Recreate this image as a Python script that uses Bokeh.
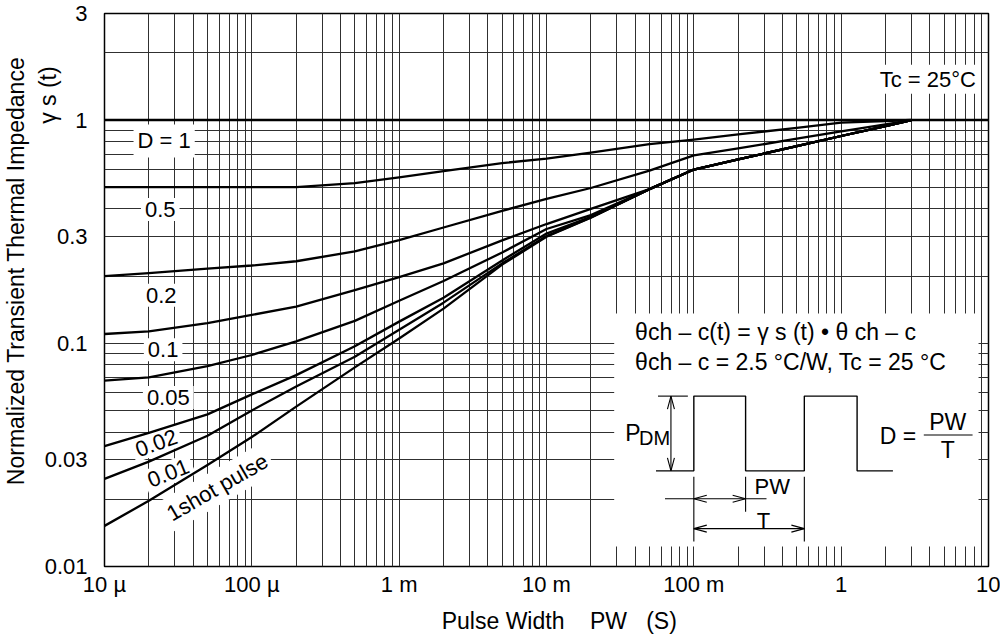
import math
from bokeh.plotting import figure
from bokeh.models import FixedTicker, Label, BoxAnnotation, CustomJSTickFormatter
from bokeh.embed import file_html
from bokeh.resources import INLINE

# ---------------- data ----------------
pulse_width = [1e-5, 2e-5, 5e-5, 1e-4, 2e-4, 5e-4, 1e-3, 2e-3, 5e-3, 1e-2,
               2e-2, 5e-2, 0.1, 0.2, 0.5, 1.0, 2.0, 3.0]
d1_x = [1e-5, 10.0]
d1_y = [1.0, 1.0]
rs_d05 = [0.5, 0.5, 0.5, 0.5, 0.5, 0.522, 0.553, 0.59, 0.641, 0.672,
          0.715, 0.779, 0.816, 0.862, 0.923, 0.973, 0.99, 1.0]
rs_d02 = [0.2, 0.206, 0.216, 0.223, 0.233, 0.258, 0.29, 0.33, 0.392, 0.443,
          0.496, 0.593, 0.695, 0.746, 0.825, 0.89, 0.957, 1.0]
rs_d01 = [0.110, 0.113, 0.123, 0.134, 0.146, 0.173, 0.198, 0.228, 0.289, 0.342,
          0.40, 0.49, 0.60, 0.666, 0.764, 0.848, 0.94, 1.0]
rs_d005 = [0.068, 0.0704, 0.079, 0.0886, 0.102, 0.126, 0.155, 0.19, 0.255, 0.325,
           0.375, 0.49, 0.60, 0.666, 0.764, 0.848, 0.94, 1.0]
rs_d002 = [0.0346, 0.0397, 0.048, 0.059, 0.072, 0.097, 0.125, 0.16, 0.235, 0.31,
           0.368, 0.49, 0.60, 0.666, 0.764, 0.848, 0.94, 1.0]
rs_d001 = [0.0247, 0.0295, 0.0385, 0.050, 0.064, 0.087, 0.115, 0.152, 0.228, 0.302,
           0.366, 0.49, 0.60, 0.666, 0.764, 0.848, 0.94, 1.0]
rs_single = [0.0152, 0.0197, 0.0285, 0.038, 0.052, 0.078, 0.105, 0.143, 0.225, 0.300,
             0.365, 0.49, 0.60, 0.666, 0.764, 0.848, 0.94, 1.0]

curve_labels = ["D = 1", "0.5", "0.2", "0.1", "0.05", "0.02", "0.01", "1shot pulse"]
curve_label_x = [2.54e-5, 2.39e-5, 2.43e-5, 2.5e-5, 2.71e-5, 2.25e-5, 2.71e-5, 5.83e-5]
curve_label_y = [0.806, 0.397, 0.164, 0.0935, 0.0572, 0.0357, 0.0262, 0.02265]
curve_label_angle = [0, 0, 0, 0, 0, 20, 22, 30]

x_ticks = [1e-5, 1e-4, 1e-3, 1e-2, 1e-1, 1.0, 10.0]
x_tick_labels = ["10 µ", "100 µ", "1 m", "10 m", "100 m", "1", "10"]
x_minor = [2e-5, 3e-5, 4e-5, 5e-5, 6e-5, 7e-5, 8e-5, 9e-5,
           2e-4, 3e-4, 4e-4, 5e-4, 6e-4, 7e-4, 8e-4, 9e-4,
           2e-3, 3e-3, 4e-3, 5e-3, 6e-3, 7e-3, 8e-3, 9e-3,
           2e-2, 3e-2, 4e-2, 5e-2, 6e-2, 7e-2, 8e-2, 9e-2,
           0.2, 0.3, 0.4, 0.5, 0.6, 0.7, 0.8, 0.9,
           2.0, 3.0, 4.0, 5.0, 6.0, 7.0, 8.0, 9.0]
y_ticks = [0.01, 0.03, 0.1, 0.3, 1.0, 3.0]
y_tick_labels = ["0.01", "0.03", "0.1", "0.3", "1", "3"]
y_minor = [0.02, 0.04, 0.05, 0.06, 0.07, 0.08, 0.09,
           0.2, 0.4, 0.5, 0.6, 0.7, 0.8, 0.9, 2.0]

NB = "\u00a0"
y_title = NB * 6 + "Normalized Transient Thermal Impedance" + "\n" + NB * 62 + "γ s  (t)"
x_title = NB * 4 + "Pulse Width" + NB * 4 + "PW" + NB * 3 + "(S)"

# ---------------- layout helpers ----------------
FRAME_L, FRAME_R, FRAME_T, FRAME_B = 100, 988, 13, 568   # picture pixels
X_LO, X_HI, Y_LO, Y_HI = 1e-5, 10.0, 0.01, 3.0
LX0, LX1 = math.log10(X_LO), math.log10(X_HI)
LY0, LY1 = math.log10(Y_LO), math.log10(Y_HI)


def px2x(xp):
    return 10 ** (LX0 + (xp - FRAME_L) / (FRAME_R - FRAME_L) * (LX1 - LX0))


def px2y(yp):
    return 10 ** (LY1 - (yp - FRAME_T) / (FRAME_B - FRAME_T) * (LY1 - LY0))


FONT = "Liberation Sans"
W, H = 1000, 636

p = figure(width=W, height=H, x_axis_type="log", y_axis_type="log",
           x_range=(X_LO, X_HI), y_range=(Y_LO, Y_HI),
           output_backend="svg", toolbar_location=None,
           min_border_left=FRAME_L, min_border_right=W - FRAME_R,
           min_border_top=FRAME_T, min_border_bottom=H - FRAME_B)
p.background_fill_color = "white"
p.border_fill_color = "white"
p.outline_line_color = "black"
p.outline_line_width = 1.5

xt = FixedTicker(ticks=x_ticks, minor_ticks=x_minor)
yt = FixedTicker(ticks=y_ticks, minor_ticks=y_minor)
p.xaxis.ticker = xt
p.yaxis.ticker = yt
p.xgrid.ticker = xt
p.ygrid.ticker = yt

fmt_code = """
for (let i = 0; i < vals.length; i++) {
  if (Math.abs(Math.log10(tick) - Math.log10(vals[i])) < 1e-6) { return labs[i]; }
}
return "";
"""
p.xaxis.formatter = CustomJSTickFormatter(args=dict(vals=x_ticks, labs=x_tick_labels), code=fmt_code)
p.yaxis.formatter = CustomJSTickFormatter(args=dict(vals=y_ticks, labs=y_tick_labels), code=fmt_code)

for ax in (p.xaxis, p.yaxis):
    ax.axis_line_color = None
    ax.major_tick_line_color = None
    ax.minor_tick_line_color = None
    ax.major_tick_out = 0
    ax.major_tick_in = 0
    ax.minor_tick_out = 0
    ax.minor_tick_in = 0
    ax.major_label_text_font = FONT
    ax.major_label_text_font_size = "22px"
    ax.major_label_text_color = "black"
    ax.axis_label_text_font = FONT
    ax.axis_label_text_font_style = "normal"
    ax.axis_label_text_color = "black"
p.xaxis.major_label_standoff = 5
p.yaxis.major_label_standoff = 17

p.xaxis.axis_label = x_title
p.xaxis.axis_label_text_font_size = "23px"
p.xaxis.axis_label_standoff = 8
p.yaxis.axis_label = y_title
p.yaxis.axis_label_text_font_size = "23px"
p.yaxis.axis_label_standoff = -19

GRID = "#303030"
for g in (p.xgrid, p.ygrid):
    g.grid_line_color = GRID
    g.grid_line_width = 1
    g.minor_grid_line_color = GRID
    g.minor_grid_line_width = 1

# white box behind the inset (covers the grid)
p.add_layout(BoxAnnotation(left=px2x(612), right=px2x(978), top=px2y(314), bottom=px2y(548),
                           fill_color="white", fill_alpha=1.0, line_color=None, level="underlay"))

# curve labels with white backgrounds (above grid, below curves)
for txt, lx, ly, ang in zip(curve_labels, curve_label_x, curve_label_y, curve_label_angle):
    p.add_layout(Label(x=lx, y=ly, text=txt, text_align="center", text_baseline="middle",
                       angle=math.radians(ang), text_font=FONT, text_font_size="22px",
                       text_color="black", background_fill_color="white",
                       background_fill_alpha=1.0, padding=4, level="underlay"))

p.add_layout(Label(x=3.87, y=1.523, text="Tc = 25°C", text_align="center", text_baseline="middle",
                   text_font=FONT, text_font_size="22px", text_color="black",
                   background_fill_color="white", background_fill_alpha=1.0, padding=2,
                   level="underlay"))

# curves
CW = 2.3
p.line(d1_x, d1_y, line_color="black", line_width=2.4)
for ys in (rs_d05, rs_d02, rs_d01, rs_d005, rs_d002, rs_d001, rs_single):
    p.line(pulse_width, ys, line_color="black", line_width=CW, line_join="round")

# ---------------- inset schematic (picture px) ----------------
pulse_px_x = [654, 692, 692, 744, 744, 803, 803, 856, 856, 892]
pulse_px_y = [472, 472, 397, 397, 472, 472, 397, 397, 472, 472]
p.line([px2x(v) for v in pulse_px_x], [px2y(v) for v in pulse_px_y],
       line_color="black", line_width=1.4)

segs = [
    ((656, 397), (686, 397)),   # top reference of P_DM
    ((669, 397), (669, 472)),   # P_DM dimension line
    ((692, 478), (692, 543)),
    ((744, 478), (744, 513)),
    ((803, 478), (803, 543)),
    ((663, 500), (765, 500)),   # PW dimension
    ((692, 530), (803, 530)),   # T dimension
    ((923, 436), (972, 436)),   # fraction bar
]


def head(tx, ty, ux, uy, L=13.0, Wd=3.5):
    bx, by = tx - ux * L, ty - uy * L
    nx, ny = -uy, ux
    return [(bx + nx * Wd, by + ny * Wd), (tx, ty), (bx - nx * Wd, by - ny * Wd)]


heads = [head(669, 397, 0, -1), head(669, 472, 0, 1),
         head(692, 500, -1, 0), head(744, 500, 1, 0),
         head(692, 530, -1, 0), head(803, 530, 1, 0)]

xs = [[px2x(a[0]), px2x(b[0])] for a, b in segs] + [[px2x(q[0]) for q in h] for h in heads]
ys = [[px2y(a[1]), px2y(b[1])] for a, b in segs] + [[px2y(q[1]) for q in h] for h in heads]
p.multi_line(xs, ys, line_color="black", line_width=1.1)


def tlabel(xp, yp, text, size="23px", align="left", angle=0.0):
    p.add_layout(Label(x=px2x(xp), y=px2y(yp), text=text, text_align=align,
                       text_baseline="middle", angle=angle, text_font=FONT,
                       text_font_size=size, text_color="black"))


tlabel(633, 333, "θch – c(t) = γ s (t) • θ ch – c")
tlabel(633, 363, "θch – c = 2.5 °C/W, Tc = 25 °C")
tlabel(623, 434, "P")
tlabel(637, 439, "DM", size="20px")
tlabel(753, 488, "PW", size="22px")
tlabel(762, 522, "T", size="22px", align="center")
tlabel(897, 437, "D =", size="23px", align="center")
tlabel(947, 423, "PW", size="23px", align="center")
tlabel(947, 451, "T", size="23px", align="center")

open("out.html", "w").write(file_html(p, INLINE))
